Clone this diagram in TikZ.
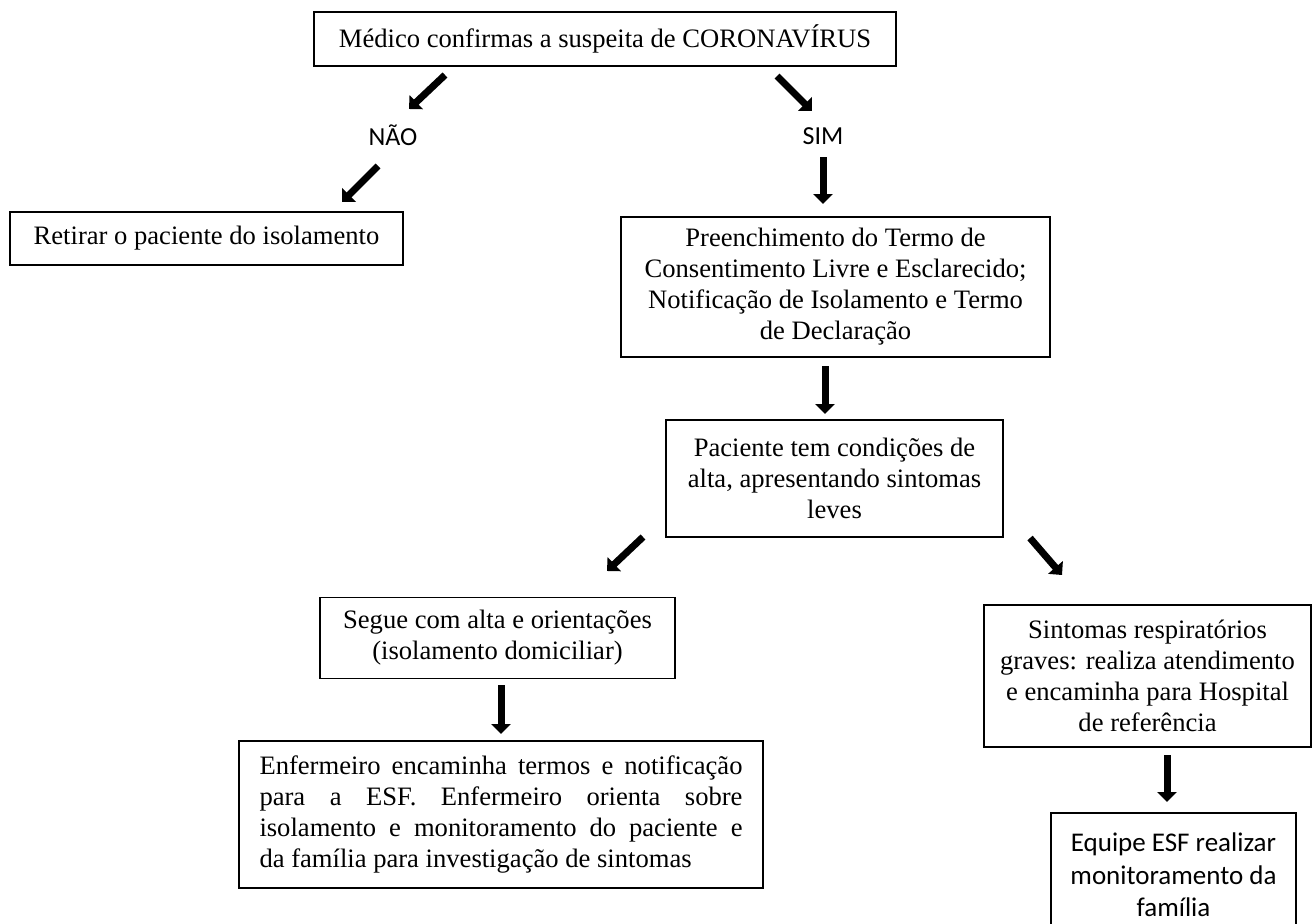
\documentclass[tikz,border=0pt]{standalone}
\usepackage{fontspec}
\setmainfont{Liberation Serif}
\newfontfamily\calfont{Carlito}
\usetikzlibrary{arrows.meta}
\begin{document}
\begin{tikzpicture}[x=1pt,y=-1pt,
  box/.style={draw, line width=1.5pt, inner sep=0pt, align=center,
    font=\fontsize{26.6}{31}\selectfont},
  lbl/.style={inner sep=0pt, font=\calfont\fontsize{26}{31}\selectfont},
  barrow/.style={line width=7pt, -{Triangle[width=19pt,length=10pt]}}]
\useasboundingbox (0,0) rectangle (1313,923);
\clip (0,0) rectangle (1313,923);
% boxes
\node[box, minimum width=582pt, minimum height=54pt] (top) at (605,39)
  {Médico confirmas a suspeita de CORONAVÍRUS};
\node[lbl] (nao) at (393,135) {NÃO};
\node[lbl] (sim) at (823,136) {SIM};
\node[box, minimum width=393pt, minimum height=53pt] (ret) at (206.5,238.5)
  {Retirar o paciente do isolamento};
\node[box, minimum width=429pt, minimum height=140pt] (pre) at (835.5,287)
  {Preenchimento do Termo de\\Consentimento Livre e Esclarecido;\\Notificação de Isolamento e Termo\\de Declaração};
\node[box, minimum width=337pt, minimum height=117pt] (pac) at (834.5,478.5)
  {Paciente tem condições de\\alta, apresentando sintomas\\leves};
\node[box, minimum width=355pt, minimum height=81pt] (seg) at (497.5,638)
  {Segue com alta e orientações\\(isolamento domiciliar)};
\node[box, minimum width=524pt, minimum height=147pt, text width=483pt, align=justify] (enf) at (501,814.5)
  {Enfermeiro encaminha termos e notificação\linebreak para a ESF. Enfermeiro orienta sobre\linebreak isolamento e monitoramento do paciente e\linebreak da família para investigação de sintomas};
\node[box, minimum width=327pt, minimum height=142pt] (sin) at (1147.5,676)
  {Sintomas respiratórios\\graves: realiza atendimento\\e encaminha para Hospital\\de referência};
\node[box, minimum width=245pt, minimum height=124pt, font=\calfont\fontsize{27}{32.5}\selectfont] (equ) at (1173.5,875)
  {Equipe ESF realizar\\monitoramento da\\família};
% arrow end points
\coordinate (a1s) at (445,75);   \coordinate (a1e) at (409,109);
\coordinate (a2s) at (378,166);  \coordinate (a2e) at (342,202);
\coordinate (a3s) at (777,76);   \coordinate (a3e) at (812,111);
\coordinate (a4s) at (823,157);  \coordinate (a4e) at (823,204);
\coordinate (a5s) at (825,366);  \coordinate (a5e) at (825,414);
\coordinate (a6s) at (643,537);  \coordinate (a6e) at (607,571);
\coordinate (a7s) at (1030,538); \coordinate (a7e) at (1062,575);
\coordinate (a8s) at (501,685);  \coordinate (a8e) at (501,734);
\coordinate (a9s) at (1167,755); \coordinate (a9e) at (1167,802);
\draw[barrow] (a1s) -- (a1e);
\draw[barrow] (a2s) -- (a2e);
\draw[barrow] (a3s) -- (a3e);
\draw[barrow] (a4s) -- (a4e);
\draw[barrow] (a5s) -- (a5e);
\draw[barrow] (a6s) -- (a6e);
\draw[barrow] (a7s) -- (a7e);
\draw[barrow] (a8s) -- (a8e);
\draw[barrow] (a9s) -- (a9e);
\end{tikzpicture}
\end{document}
